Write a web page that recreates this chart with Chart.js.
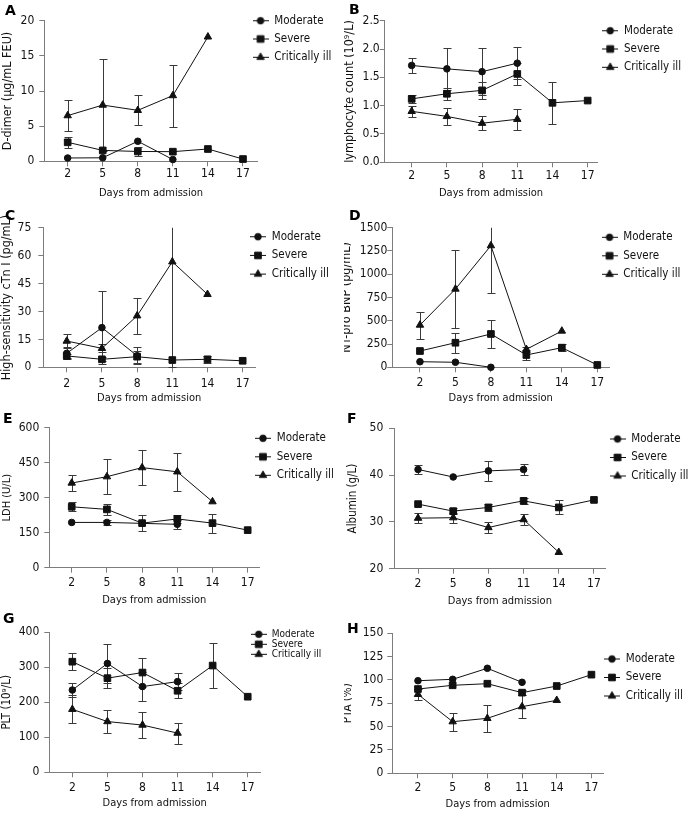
<!DOCTYPE html>
<html><head><meta charset="utf-8">
<script src="https://cdn.jsdelivr.net/npm/chart.js@4.4.1/dist/chart.umd.min.js"></script>
<style>
html,body{margin:0;padding:0;background:#fff;}
#wrap{position:relative;width:688px;height:813px;overflow:hidden;background:#fff;}
canvas{position:absolute;}
</style></head><body><div id="wrap"></div>
<script>
// ---------- data ----------
const days = [2, 5, 8, 11, 14, 17];
const groupLabels = ['Moderate', 'Severe', 'Critically ill'];
const xAxisTitle = 'Days from admission';

// A: D-dimer (μg/mL FEU)
const dDimerModerate    = [0.47, 0.5, 2.85, 0.25, null, null];
const dDimerModerateErr = [null, null, null, null, null, null];
const dDimerSevere      = [2.7, 1.55, 1.4, 1.37, 1.75, 0.32];
const dDimerSevereErr   = [0.75, null, 0.7, null, null, null];
const dDimerCritical    = [6.5, 8.0, 7.25, 9.35, 17.7, null];
const dDimerCriticalErr = [2.2, 6.55, 2.15, 4.4, null, null];

// B: lymphocyte count (10^9/L)
const lymphModerate    = [1.71, 1.65, 1.6, 1.75, null, null];
const lymphModerateErr = [0.14, 0.37, 0.41, 0.28, null, null];
const lymphSevere      = [1.12, 1.21, 1.27, 1.56, 1.05, 1.09];
const lymphSevereErr   = [0.075, 0.11, 0.155, 0.2, 0.365, null];
const lymphCritical    = [0.9, 0.81, 0.69, 0.76, null, null];
const lymphCriticalErr = [0.1, 0.145, 0.127, 0.185, null, null];

// C: High-sensitivity cTn I (pg/mL)
const ctniModerate    = [7.5, 21.3, 6.2, null, null, null];
const ctniModerateErr = [3.2, 19.5, 4.6, null, null, null];
const ctniSevere      = [6.1, 4.3, 5.7, 3.9, 4.3, 3.5];
const ctniSevereErr   = [1.2, 1.0, 3.2, null, 2.0, null];
const ctniCritical    = [14.1, 10.2, 27.7, 56.7, 39.2, null];
const ctniCriticalErr = [3.6, 2.2, 9.6, 56.7, null, null];

// D: NT-pro BNP (pg/mL)
const bnpModerate    = [60, 54, 0, null, null, null];
const bnpModerateErr = [null, null, null, null, null, null];
const bnpSevere      = [175, 264, 358, 132, 211, 25];
const bnpSevereErr   = [null, 105, 148, 54, 40, null];
const bnpCritical    = [454, 841, 1307, 193, 390, null];
const bnpCriticalErr = [145, 415, 505, 30, null, null];

// E: LDH (U/L)
const ldhModerate    = [194, 194, 190, 186, null, null];
const ldhModerateErr = [null, 9, null, 19, null, null];
const ldhSevere      = [261, 250, 191, 209, 191, 161];
const ldhSevereErr   = [19, 23, 34, 17, 41, null];
const ldhCritical    = [363, 390, 429, 411, 283, null];
const ldhCriticalErr = [34, 76, 76, 82, null, null];

// F: Albumin (g/L)
const albModerate    = [41.2, 39.6, 40.9, 41.2, null, null];
const albModerateErr = [0.9, null, 2.1, 1.1, null, null];
const albSevere      = [33.8, 32.3, 33.1, 34.5, 33.1, 34.7];
const albSevereErr   = [null, 0.6, 0.75, 0.7, 1.5, null];
const albCritical    = [30.8, 30.9, 28.8, 30.5, 23.5, null];
const albCriticalErr = [1.0, 1.1, 1.25, 1.2, null, null];

// G: PLT (10^9/L)
const pltModerate    = [235, 311, 245, 259, null, null];
const pltModerateErr = [19, 56, 41, 24, null, null];
const pltSevere      = [316, 269, 285, 233, 305, 216];
const pltSevereErr   = [24, 29, 41, 22, 65, null];
const pltCritical    = [180, 145, 135, 112, null, null];
const pltCriticalErr = [40, 34, 36, 30, null, null];

// H: PTA (%)
const ptaModerate    = [99.2, 100.7, 112.5, 97.5, null, null];
const ptaModerateErr = [null, null, null, null, null, null];
const ptaSevere      = [90.3, 94.3, 96, 86.4, 93.5, 105.7];
const ptaSevereErr   = [null, null, null, 3, null, null];
const ptaCritical    = [84.6, 55.3, 58.9, 71.4, 78.2, null];
const ptaCriticalErr = [6, 9.7, 14.3, 12, null, null];

// ---------- panel layout ----------
const panels = [
  { letter: 'A', box: [0, 0, 344, 205], area: [44.3, 20.7, 257.7, 161.3], xRange: [0, 18.26], yRange: [0, 20], yStep: 5, yDec: 0,
    yTitle: 'D-dimer (μg/mL FEU)', yTitleSize: 12.5, yTitleX: 7.5, yGap: 10, xTickY: 174.3, xTitleY: 193.3, letterPos: [5, 11.7],
    legend: [274.3, 20.7, 18.3, 11.5],
    series: [[dDimerModerate, dDimerModerateErr], [dDimerSevere, dDimerSevereErr], [dDimerCritical, dDimerCriticalErr]] },
  { letter: 'B', box: [344, 0, 344, 205], area: [384.7, 20.7, 597.3, 162.3], xRange: [-0.3, 17.82], yRange: [0, 2.5], yStep: 0.5, yDec: 1,
    yTitle: 'lymphocyte count (10⁹/L)', yTitleSize: 12.5, yTitleX: 349.7, yGap: 5, xTickY: 175.7, xTitleY: 193.3, letterPos: [349, 10.8],
    legend: [624, 30.7, 18.3, 11.5],
    series: [[lymphModerate, lymphModerateErr], [lymphSevere, lymphSevereErr], [lymphCritical, lymphCriticalErr]] },
  { letter: 'C', box: [0, 195, 344, 215], area: [43.3, 227.7, 255, 367.3], xRange: [0, 18.05], yRange: [0, 75], yStep: 15, yDec: 0,
    yTitle: 'High-sensitivity cTn I (pg/mL)', yTitleSize: 12.5, yTitleX: 6.7, yGap: 12, xTickY: 384.2, xTitleY: 398.3, letterPos: [5, 216],
    legend: [271.7, 236.7, 18.7, 11.5],
    series: [[ctniModerate, ctniModerateErr], [ctniSevere, ctniSevereErr], [ctniCritical, ctniCriticalErr]] },
  { letter: 'D', box: [344, 195, 344, 215], area: [392.3, 227.7, 609, 367.3], xRange: [-0.34, 17.99], yRange: [0, 1500], yStep: 250, yDec: 0,
    yTitle: 'NT-pro BNP (pg/mL)', yTitleSize: 12.5, yTitleX: 346.5, yGap: 5, xTickY: 383.3, xTitleY: 398.3, letterPos: [349, 216],
    legend: [623.3, 237.3, 18.5, 11.5],
    series: [[bnpModerate, bnpModerateErr], [bnpSevere, bnpSevereErr], [bnpCritical, bnpCriticalErr]] },
  { letter: 'E', box: [0, 400, 344, 215], area: [49.3, 427.7, 259.3, 567.7], xRange: [0.09, 17.99], yRange: [0, 600], yStep: 150, yDec: 0,
    yTitle: 'LDH (U/L)', yTitleSize: 11, yTitleX: 6.7, yGap: 10, xTickY: 583.3, xTitleY: 600, letterPos: [3, 419],
    legend: [276.7, 438.3, 18.5, 11.5],
    series: [[ldhModerate, ldhModerateErr], [ldhSevere, ldhSevereErr], [ldhCritical, ldhCriticalErr]] },
  { letter: 'F', box: [344, 400, 344, 215], area: [394, 428.3, 605.7, 568.7], xRange: [-0.05, 18.0], yRange: [20, 50], yStep: 10, yDec: 0,
    yTitle: 'Albumin (g/L)', yTitleSize: 11.5, yTitleX: 353.2, yGap: 10.7, xTickY: 584, xTitleY: 601, letterPos: [347, 419],
    legend: [631.3, 439, 18.5, 11.5],
    series: [[albModerate, albModerateErr], [albSevere, albSevereErr], [albCritical, albCriticalErr]] },
  { letter: 'G', box: [0, 600, 344, 213], area: [49.3, 632.3, 260, 772.3], xRange: [0.03, 18.05], yRange: [0, 400], yStep: 100, yDec: 0,
    yTitle: 'PLT (10⁹/L)', yTitleSize: 11.5, yTitleX: 6.7, yGap: 10, xTickY: 788.3, xTitleY: 803.3, letterPos: [3, 619],
    legend: [271.7, 634.3, 10, 10],
    series: [[pltModerate, pltModerateErr], [pltSevere, pltSevereErr], [pltCritical, pltCriticalErr]] },
  { letter: 'H', box: [344, 600, 344, 213], area: [392.3, 633.3, 603, 773.3], xRange: [-0.22, 18.0], yRange: [0, 150], yStep: 25, yDec: 0,
    yTitle: 'PTA (%)', yTitleSize: 11.5, yTitleX: 348.5, yGap: 9, xTickY: 788.3, xTitleY: 804, letterPos: [347, 629],
    legend: [625.7, 659, 18.5, 11.5],
    series: [[ptaModerate, ptaModerateErr], [ptaSevere, ptaSevereErr], [ptaCritical, ptaCriticalErr]] }
];

// ---------- styles ----------
const FONT = '"DejaVu Sans Condensed", "Liberation Sans", Arial, sans-serif';
const LETTER_FONT = '"DejaVu Sans", "Liberation Sans", Arial, sans-serif';
const AXIS = '#7d7d7d';
const INK = '#111111';
const ERR = '#3a3a3a';
const MARK = [{ style: 'circle', r: 3.3 }, { style: 'rect', r: 4.7 }, { style: 'triangle', r: 4.3 }];
const TICK_SIZE = 12, XTITLE_SIZE = 11, LETTER_SIZE = 14, LEG_BOX = 16;

function drawMarker(g, style, r, x, y) {
  if (Chart.helpers && Chart.helpers.drawPoint) {
    Chart.helpers.drawPoint(g, { pointStyle: style, radius: r, rotation: 0, borderWidth: 1 }, x, y);
    return;
  }
  g.beginPath();
  if (style === 'circle') g.arc(x, y, r, 0, Math.PI * 2);
  else if (style === 'rect') { const s = r * Math.SQRT1_2; g.rect(x - s, y - s, 2 * s, 2 * s); }
  else { for (let k = 0; k < 3; k++) { const a = k * 2 * Math.PI / 3; g.lineTo(x + Math.sin(a) * r, y - Math.cos(a) * r); } g.closePath(); }
  g.fill(); g.stroke();
}
function legendImage(k) {
  const c = document.createElement('canvas');
  c.width = LEG_BOX; c.height = 13;
  const g = c.getContext('2d');
  g.fillStyle = INK; g.strokeStyle = INK; g.lineWidth = 1;
  g.fillRect(0, 6, LEG_BOX, 1);
  drawMarker(g, MARK[k].style, MARK[k].r, LEG_BOX / 2, 6.5);
  return c;
}
const legendImgs = [0, 1, 2].map(legendImage);

// ---------- plugins ----------
const errorBars = {
  id: 'errorBars',
  beforeDatasetsDraw(chart, args, opts) {
    const { ctx, chartArea: ca, scales: { x, y } } = chart;
    ctx.save();
    ctx.beginPath();
    ctx.rect(ca.left - 10, ca.top, ca.right - ca.left + 20, ca.bottom - ca.top + 1);
    ctx.clip();
    ctx.strokeStyle = opts.color; ctx.lineWidth = 1;
    ctx.beginPath();
    chart.data.datasets.forEach(ds => ds.data.forEach(pt => {
      if (pt.e == null) return;
      const px = Math.round(x.getPixelForValue(pt.x)) + 0.5;
      const hi = Math.round(y.getPixelForValue(pt.y + pt.e)) + 0.5;
      const lo = Math.round(y.getPixelForValue(pt.y - pt.e)) + 0.5;
      ctx.moveTo(px, hi); ctx.lineTo(px, lo);
      ctx.moveTo(px - opts.cap, hi); ctx.lineTo(px + opts.cap, hi);
      ctx.moveTo(px - opts.cap, lo); ctx.lineTo(px + opts.cap, lo);
    }));
    ctx.stroke();
    ctx.restore();
  }
};
const legendPlacer = {
  id: 'legendPlacer',
  beforeDraw(chart, args, o) {
    const L = chart.legend; if (!L) return;
    const h = L.height, w = 160;
    const left = o.x - o.fs / 2 - o.bw - o.pad;
    const top = o.y - o.fs / 2 - o.pad;
    L.left = left; L.right = left + w; L.width = w;
    L.top = top; L.bottom = top + h;
  }
};

// ---------- build ----------
const wrap = document.getElementById('wrap');
panels.forEach(p => {
  const [bx, by, bw, bh] = p.box;
  const cv = document.createElement('canvas');
  cv.width = bw; cv.height = bh;
  cv.style.left = bx + 'px'; cv.style.top = by + 'px';
  cv.style.width = bw + 'px'; cv.style.height = bh + 'px';
  wrap.appendChild(cv);

  const t = { L: p.area[0] - bx, T: p.area[1] - by, R: p.area[2] - bx, B: p.area[3] - by };
  const letterLH = LETTER_SIZE * 1.2;
  const st = {};
  st.padLeft = p.letterPos[0] - bx;
  st.titlePadTop = (p.letterPos[1] - by) - letterLH / 2;
  st.titlePadBottom = t.T - letterLH - st.titlePadTop;
  st.yW = t.L - st.padLeft;
  st.xH = p.xTitleY - p.area[3] + XTITLE_SIZE * 1.2 / 2;
  st.padBottom = bh - t.B - st.xH;
  st.legendW = 60;
  st.padRight = bw - t.R - st.legendW;
  const yTitlePad = (p.yTitleX - bx) - st.padLeft - p.yTitleSize * 1.2 / 2;
  const xTickPad = p.xTickY - p.area[3] - 5 - TICK_SIZE * 1.2 / 2;
  const [lx, ly, lsp, lfs] = p.legend;
  const lpad = lsp - lfs;

  const datasets = p.series.map((s, k) => {
    const [vals, errs] = s;
    const data = [];
    vals.forEach((v, i) => {
      if (v !== null && v !== undefined) data.push({ x: days[i], y: v, e: (errs[i] === undefined ? null : errs[i]) });
    });
    return {
      label: groupLabels[k], data,
      borderColor: INK, backgroundColor: INK, borderWidth: 1, tension: 0, fill: false, clip: false,
      pointStyle: MARK[k].style, pointRadius: MARK[k].r, pointHoverRadius: MARK[k].r,
      pointBackgroundColor: INK, pointBorderColor: INK, pointBorderWidth: 1
    };
  });

  const chart = new Chart(cv, {
    type: 'line',
    data: { datasets },
    options: {
      responsive: false, animation: false, devicePixelRatio: 1,
      events: [],
      layout: { padding: { left: st.padLeft, top: 0, right: st.padRight, bottom: st.padBottom } },
      plugins: {
        title: { display: true, text: p.letter, align: 'start', color: '#000',
          font: { family: LETTER_FONT, size: LETTER_SIZE, weight: 'bold' },
          padding: { top: st.titlePadTop, bottom: st.titlePadBottom } },
        legend: { display: true, position: 'right', align: 'start', maxWidth: st.legendW,
          labels: { usePointStyle: true, pointStyleWidth: LEG_BOX, boxHeight: lfs,
            font: { family: FONT, size: lfs }, color: INK, padding: lpad,
            generateLabels: ch => ch.data.datasets.map((ds, i) => ({
              text: ds.label, pointStyle: legendImgs[i], fillStyle: INK, strokeStyle: INK,
              lineWidth: 0, hidden: false, datasetIndex: i, fontColor: INK })) } },
        tooltip: { enabled: false },
        legendPlacer: { x: lx - bx, y: ly - by, fs: lfs, pad: lpad, bw: LEG_BOX },
        errorBars: { color: ERR, cap: 4 }
      },
      scales: {
        x: {
          type: 'linear', min: p.xRange[0], max: p.xRange[1], offset: false,
          afterBuildTicks: s => { s.ticks = days.map(v => ({ value: v })); },
          afterFit: s => { s.height = st.xH; },
          grid: { display: true, drawOnChartArea: false, drawTicks: true, tickLength: 5, color: AXIS, lineWidth: 1 },
          border: { display: true, color: AXIS, width: 1 },
          ticks: { font: { family: FONT, size: TICK_SIZE }, color: INK, padding: xTickPad,
            maxRotation: 0, minRotation: 0, autoSkip: false, callback: v => String(v) },
          title: { display: true, text: xAxisTitle, font: { family: FONT, size: XTITLE_SIZE }, color: INK,
            padding: { top: 0, bottom: 0 } }
        },
        y: {
          type: 'linear', min: p.yRange[0], max: p.yRange[1],
          afterFit: s => { s.width = st.yW; },
          grid: { display: true, drawOnChartArea: false, drawTicks: true, tickLength: 5, color: AXIS, lineWidth: 1 },
          border: { display: true, color: AXIS, width: 1 },
          ticks: { stepSize: p.yStep, font: { family: FONT, size: TICK_SIZE }, color: INK,
            padding: Math.max(0, p.yGap - 5), callback: v => Number(v).toFixed(p.yDec) },
          title: { display: true, text: p.yTitle, font: { family: FONT, size: p.yTitleSize }, color: INK,
            padding: { top: yTitlePad, bottom: 0 } }
        }
      }
    },
    plugins: [errorBars, legendPlacer]
  });

  // fine-tune so that the plotting area lands on the target rectangle
  for (let k = 0; k < 3; k++) {
    const ca = chart.chartArea;
    const dl = t.L - ca.left, dt = t.T - ca.top, dr = t.R - ca.right, db = t.B - ca.bottom;
    if (Math.abs(dl) + Math.abs(dt) + Math.abs(dr) + Math.abs(db) < 0.05) break;
    st.yW += dl;
    st.titlePadBottom += dt;
    st.padRight -= dr;
    st.padBottom -= db;
    chart.options.layout.padding = { left: st.padLeft, top: 0, right: st.padRight, bottom: st.padBottom };
    chart.options.plugins.title.padding = { top: st.titlePadTop, bottom: st.titlePadBottom };
    chart.update();
  }
});
</script>
</body></html>
